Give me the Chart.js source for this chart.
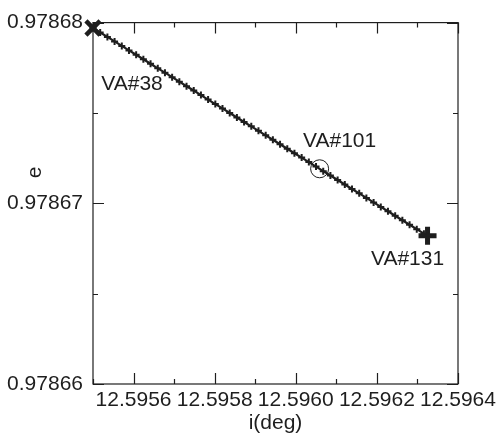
<!DOCTYPE html>
<html>
<head>
<meta charset="utf-8">
<script src="https://cdn.jsdelivr.net/npm/chart.js@4"></script>
<style>
  html, body { margin: 0; padding: 0; background: #fff; }
  #wrap { width: 502px; height: 438px; }
</style>
</head>
<body>
<div id="wrap"><canvas id="chart" width="502" height="438"></canvas></div>
<script>
// track of the VA solutions, i(deg) vs e (every second VA)
const incl = [
  12.5955000, 12.5955177, 12.5955355, 12.5955532, 12.5955710, 12.5955887,
  12.5956064, 12.5956242, 12.5956419, 12.5956597, 12.5956774, 12.5956951,
  12.5957129, 12.5957306, 12.5957484, 12.5957661, 12.5957838, 12.5958016,
  12.5958193, 12.5958371, 12.5958548, 12.5958725, 12.5958903, 12.5959080,
  12.5959258, 12.5959435, 12.5959612, 12.5959790, 12.5959967, 12.5960145,
  12.5960322, 12.5960499, 12.5960677, 12.5960854, 12.5961032, 12.5961209,
  12.5961386, 12.5961564, 12.5961741, 12.5961919, 12.5962096, 12.5962273,
  12.5962451, 12.5962628, 12.5962806, 12.5962983, 12.5963160, 12.5963249
];
const ecc = [
  0.97867970, 0.97867945, 0.97867921, 0.97867896, 0.97867871, 0.97867846,
  0.97867822, 0.97867797, 0.97867772, 0.97867747, 0.97867723, 0.97867698,
  0.97867673, 0.97867648, 0.97867624, 0.97867599, 0.97867574, 0.97867549,
  0.97867525, 0.97867500, 0.97867475, 0.97867450, 0.97867426, 0.97867401,
  0.97867376, 0.97867352, 0.97867327, 0.97867302, 0.97867277, 0.97867253,
  0.97867228, 0.97867203, 0.97867178, 0.97867154, 0.97867129, 0.97867104,
  0.97867079, 0.97867055, 0.97867030, 0.97867005, 0.97866980, 0.97866956,
  0.97866931, 0.97866906, 0.97866881, 0.97866857, 0.97866832, 0.97866820
];

// highlighted VAs
const vaNames = ['VA#38', 'VA#101', 'VA#131'];
const vaIncl = [12.5955000, 12.5960588, 12.5963249];
const vaEcc = [0.97867970, 0.97867191, 0.97866820];

const xMin = 12.5955, xMax = 12.5964, xStep = 0.0001;
const yMin = 0.97866, yMax = 0.97868, yStep = 0.000005;

const ink = '#1e1e1e';
const font = { family: 'Liberation Sans, Arial, sans-serif', size: 21 };

const track = incl.map((x, i) => ({ x: x, y: ecc[i] }));
const pt = i => [{ x: vaIncl[i], y: vaEcc[i] }];

// frame, inward ticks, y title and VA labels
const frame = {
  id: 'frame',
  beforeDatasetsDraw(chart) {
    const { ctx, chartArea: a, scales } = chart;
    ctx.save();
    ctx.strokeStyle = ink;
    ctx.lineWidth = 1.2;
    ctx.strokeRect(a.left, a.top, a.right - a.left, a.bottom - a.top);
    ctx.beginPath();
    scales.x.ticks.forEach(t => {
      const px = Math.round(scales.x.getPixelForValue(t.value)) + 0.5;
      const len = Math.round(t.value / xStep) % 2 === 0 ? 11 : 5;
      ctx.moveTo(px, a.bottom); ctx.lineTo(px, a.bottom - len);
      ctx.moveTo(px, a.top); ctx.lineTo(px, a.top + len);
    });
    scales.y.ticks.forEach(t => {
      const py = Math.round(scales.y.getPixelForValue(t.value)) + 0.5;
      const len = Math.round(t.value / yStep) % 2 === 0 ? 11 : 5;
      ctx.moveTo(a.left, py); ctx.lineTo(a.left + len, py);
      ctx.moveTo(a.right, py); ctx.lineTo(a.right - len, py);
    });
    ctx.stroke();

    // y axis title, sits a little above the middle label
    ctx.fillStyle = ink;
    ctx.font = font.size + 'px ' + font.family;
    ctx.textAlign = 'center';
    ctx.textBaseline = 'middle';
    ctx.translate(a.left - 58, (a.top + a.bottom) / 2 - 31);
    ctx.rotate(-Math.PI / 2);
    ctx.fillText('e', 0, 0);
    ctx.restore();
  },
  afterDatasetsDraw(chart) {
    const { ctx, scales } = chart;
    const offs = [[39, 56], [20, -28], [-20, 23]];
    ctx.save();
    ctx.fillStyle = ink;
    ctx.font = font.size + 'px ' + font.family;
    ctx.textAlign = 'center';
    ctx.textBaseline = 'middle';
    vaNames.forEach((name, i) => {
      const px = scales.x.getPixelForValue(vaIncl[i]);
      const py = scales.y.getPixelForValue(vaEcc[i]);
      ctx.fillText(name, px + offs[i][0], py + offs[i][1]);
    });
    ctx.restore();
  }
};

new Chart(document.getElementById('chart'), {
  type: 'scatter',
  data: {
    datasets: [
      {
        data: track,
        showLine: true,
        borderColor: ink,
        borderWidth: 2.2,
        pointStyle: 'cross',
        pointRadius: 3.5,
        pointBorderWidth: 2,
        pointBorderColor: ink,
        clip: false
      },
      {
        data: pt(0),
        pointStyle: 'crossRot',
        pointRadius: 10,
        pointBorderWidth: 4.5,
        pointBorderColor: ink,
        clip: false
      },
      {
        data: pt(1),
        pointStyle: 'circle',
        pointRadius: 9,
        pointBorderWidth: 1,
        pointBorderColor: ink,
        pointBackgroundColor: 'rgba(0,0,0,0)',
        clip: false
      },
      {
        data: pt(2),
        pointStyle: 'cross',
        pointRadius: 9,
        pointBorderWidth: 5,
        pointBorderColor: ink,
        clip: false
      }
    ]
  },
  options: {
    responsive: false,
    animation: false,
    layout: { padding: { top: 19, right: 44, left: 0, bottom: 0 } },
    plugins: { legend: { display: false }, tooltip: { enabled: false } },
    scales: {
      x: {
        type: 'linear',
        min: xMin,
        max: xMax,
        afterFit: s => { s.height = 54; },
        grid: { display: false, drawTicks: false },
        border: { display: false },
        ticks: {
          stepSize: xStep,
          autoSkip: false,
          maxRotation: 0,
          padding: 4,
          color: ink,
          font: font,
          callback: v => Math.round(v / xStep) % 2 === 0 ? v.toFixed(4) : ''
        },
        title: { display: true, text: 'i(deg)', color: ink, font: font, padding: { top: 0, bottom: 2 } }
      },
      y: {
        type: 'linear',
        min: yMin,
        max: yMax,
        afterFit: s => { s.width = 93; },
        grid: { display: false, drawTicks: false },
        border: { display: false },
        ticks: {
          stepSize: yStep,
          autoSkip: false,
          padding: 10,
          color: ink,
          font: font,
          callback: v => Math.round(v / yStep) % 2 === 0 ? v.toFixed(5) : ''
        },
        title: { display: false }
      }
    }
  },
  plugins: [frame]
});
</script>
</body>
</html>
